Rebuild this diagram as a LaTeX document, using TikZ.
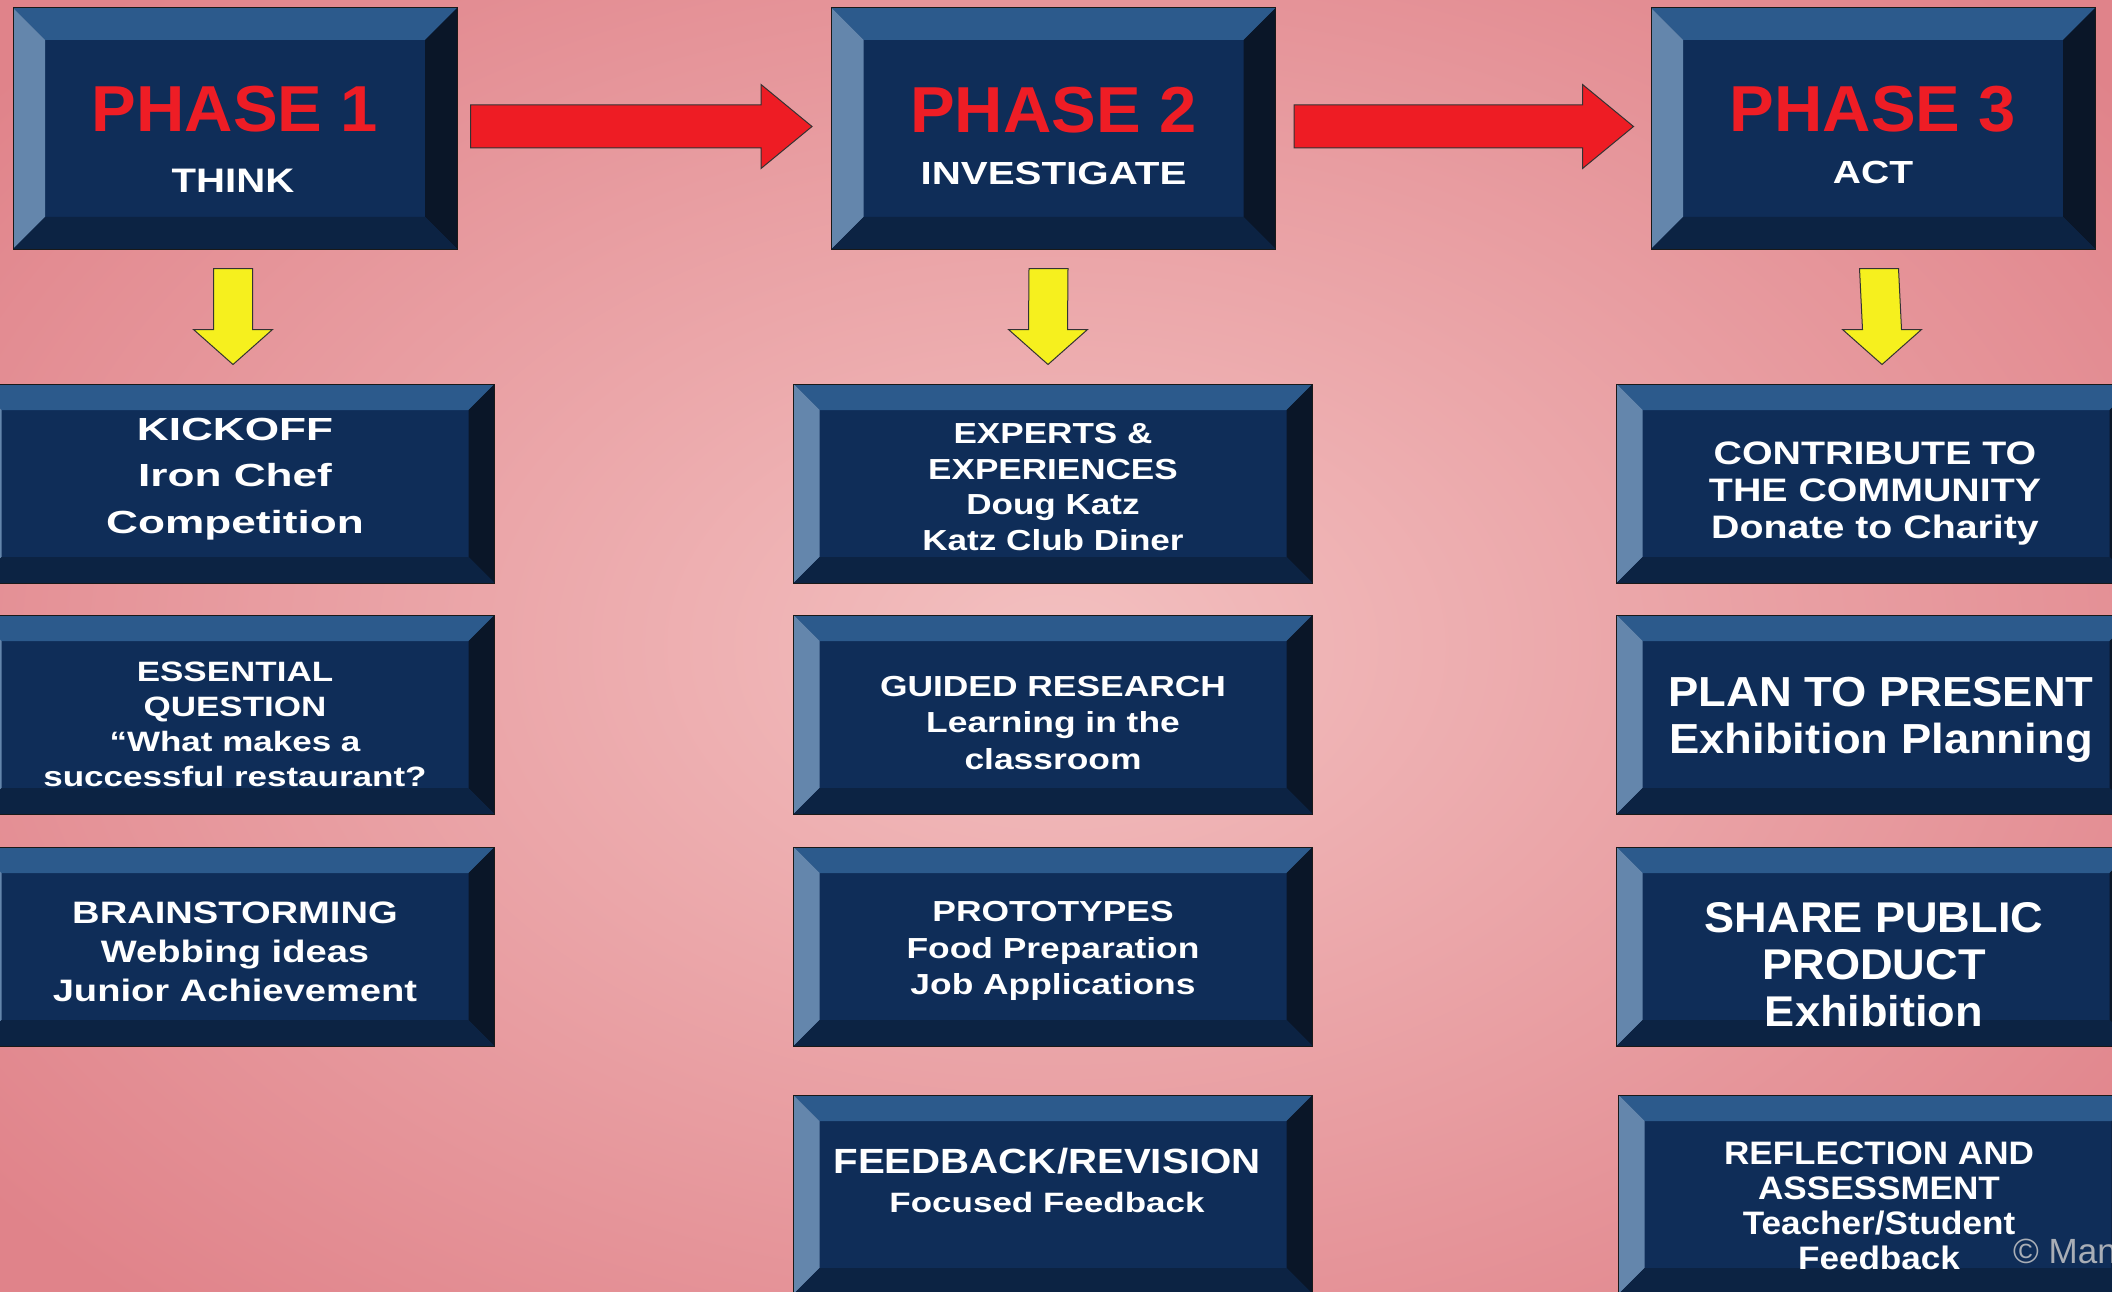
\documentclass[tikz,border=0pt]{standalone}
\usepackage{fontspec}
\setmainfont{Liberation Sans}
\usetikzlibrary{calc}

\definecolor{bgin}{HTML}{F3C0C0}
\definecolor{bgout}{HTML}{E0838A}
\definecolor{face}{HTML}{0F2D58}
\definecolor{bevtop}{HTML}{2C5A8C}
\definecolor{bevleft}{HTML}{6486AC}
\definecolor{bevright}{HTML}{0A1628}
\definecolor{bevbot}{HTML}{0C2343}
\definecolor{phasered}{HTML}{EE1D25}
\definecolor{arrowred}{HTML}{EE1C24}
\definecolor{arrowyellow}{HTML}{F6F01E}
\definecolor{wmgray}{HTML}{A9AEB6}

% bold sans, widened: {stretch}{size}{baselineskip}
\newcommand\boxfnt[3]{\fontspec{Liberation Sans Bold}[FakeStretch=#1]\fontsize{#2}{#3}\selectfont}

\newcommand\bevw{26pt}
\tikzset{
  bevel/.store in=\bevw,
  bevbox/.style={rectangle, draw=black!90, line width=1pt, fill=face,
    inner sep=0pt,
    path picture={
      \coordinate (bnw) at (path picture bounding box.north west);
      \coordinate (bne) at (path picture bounding box.north east);
      \coordinate (bsw) at (path picture bounding box.south west);
      \coordinate (bse) at (path picture bounding box.south east);
      \fill[bevtop] (bnw) -- (bne) -- ([xshift=-\bevw,yshift=-\bevw]bne)
        -- ([xshift=\bevw,yshift=-\bevw]bnw) -- cycle;
      \fill[bevleft] (bnw) -- ([xshift=\bevw,yshift=-\bevw]bnw)
        -- ([xshift=\bevw,yshift=\bevw]bsw) -- (bsw) -- cycle;
      \fill[bevright] (bne) -- (bse) -- ([xshift=-\bevw,yshift=\bevw]bse)
        -- ([xshift=-\bevw,yshift=-\bevw]bne) -- cycle;
      \fill[bevbot] (bsw) -- ([xshift=\bevw,yshift=\bevw]bsw)
        -- ([xshift=-\bevw,yshift=\bevw]bse) -- (bse) -- cycle;
    }},
  phasebox/.style={bevbox, minimum width=444pt, minimum height=241pt, bevel=32pt},
  itembox/.style={bevbox, minimum width=519pt, minimum height=199pt, bevel=26pt},
  phasetitle/.style={text=phasered, inner sep=0pt, anchor=base,
    font=\boxfnt{1.03}{65}{65}},
  phasesub/.style={text=white, inner sep=0pt, anchor=base},
  boxtext/.style={text=white, align=center, inner sep=0pt},
  redarrow/.style={fill=arrowred, draw=black!80, line width=1pt, line join=miter},
  yellowarrow/.style={fill=arrowyellow, draw=black!80, line width=1pt, line join=miter},
}

% horizontal block arrow from #1 (tail centre) to #2 (tip)
\newcommand\hblock[2]{%
  \filldraw[redarrow] ($(#1)+(0,-21.5)$) -- ($(#2)+(-51,-21.5)$)
    -- ($(#2)+(-51,-42)$) -- (#2) -- ($(#2)+(-51,42)$)
    -- ($(#2)+(-51,21.5)$) -- ($(#1)+(0,21.5)$) -- cycle;}
% downward block arrow from #1 (tail centre) to #2 (tip)
\newcommand\vblock[2]{%
  \filldraw[yellowarrow] ($(#1)+(-19.5,0)$) -- ($(#2)+(-19.5,-35)$)
    -- ($(#2)+(-39.5,-35)$) -- (#2) -- ($(#2)+(39.5,-35)$)
    -- ($(#2)+(19.5,-35)$) -- ($(#1)+(19.5,0)$) -- cycle;}

\begin{document}
\begin{tikzpicture}[x=1pt, y=-1pt]
  \useasboundingbox (0,0) rectangle (2112,1292);
  \clip (0,0) rectangle (2112,1292);
  \shade[inner color=bgin, outer color=bgout] (-300,-250) rectangle (2412,1542);

  % phase headers
  \node[phasebox] (ph1) at (235,128.5) {};
  \node[phasebox] (ph2) at (1053.5,128.5) {};
  \node[phasebox] (ph3) at (1873,128.5) {};
  \node[phasetitle] (ph1t) at (235,132) {PHASE 1};
  \node[phasetitle] (ph2t) at (1053.5,133) {PHASE 2};
  \node[phasetitle] (ph3t) at (1873,132) {PHASE 3};
  \node[phasesub, font=\boxfnt{1.18}{34}{34}] (ph1s) at (233,193) {THINK};
  \node[phasesub, font=\boxfnt{1.26}{32}{32}] (ph2s) at (1053.5,185) {INVESTIGATE};
  \node[phasesub, font=\boxfnt{1.22}{32}{32}] (ph3s) at (1873,184) {ACT};

  % step boxes
  \node[itembox] (c1a) at (235,483.5) {};
  \node[itembox] (c1b) at (235,714.5) {};
  \node[itembox] (c1c) at (235,946.5) {};
  \node[itembox] (c2a) at (1053,483.5) {};
  \node[itembox] (c2b) at (1053,714.5) {};
  \node[itembox] (c2c) at (1053,946.5) {};
  \node[itembox] (c2d) at (1053,1194.5) {};
  \node[itembox] (c3a) at (1876,483.5) {};
  \node[itembox] (c3b) at (1876,714.5) {};
  \node[itembox] (c3c) at (1876,946.5) {};
  \node[itembox] (c3d) at (1878,1194.5) {};

  % step texts
  \node[boxtext, font=\boxfnt{1.38}{32}{46.7}] (c1a-t) at (235,479)
    {KICKOFF\\Iron Chef\\Competition};
  \node[boxtext, font=\boxfnt{1.25}{28}{35}] (c1b-t) at (235,724.5)
    {ESSENTIAL\\QUESTION\\“What makes a\\successful restaurant?};
  \node[boxtext, font=\boxfnt{1.23}{31}{39}] (c1c-t) at (235,952)
    {BRAINSTORMING\\Webbing ideas\\Junior Achievement};

  \node[boxtext, font=\boxfnt{1.21}{29}{35.7}] (c2a-t) at (1053,487)
    {EXPERTS \&\\EXPERIENCES\\Doug Katz\\Katz Club Diner};
  \node[boxtext, font=\boxfnt{1.22}{29}{36.5}] (c2b-t) at (1053,723)
    {GUIDED RESEARCH\\Learning in the\\classroom};
  \node[boxtext, font=\boxfnt{1.22}{29}{36.5}] (c2c-t) at (1053,951)
    {PROTOTYPES\\Food Preparation\\Job Applications};
  \node[boxtext, font=\boxfnt{1.25}{28}{39}] (c2d-t) at (1047,1180)
    {{\boxfnt{1.15}{35}{39}FEEDBACK/REVISION}\\Focused Feedback};

  \node[boxtext, font=\boxfnt{1.21}{32.5}{37}] (c3a-t) at (1875,493.7)
    {CONTRIBUTE TO\\THE COMMUNITY\\Donate to Charity};
  \node[boxtext, font=\boxfnt{1.08}{42}{47}] (c3b-t) at (1881,720)
    {PLAN TO PRESENT\\Exhibition Planning};
  \node[boxtext, font=\boxfnt{1.05}{43}{47}] (c3c-t) at (1874,964.5)
    {SHARE PUBLIC\\PRODUCT\\Exhibition};
  \node[boxtext, font=\boxfnt{1.08}{32.5}{35}] (c3d-t) at (1879,1206)
    {REFLECTION AND\\ASSESSMENT\\Teacher/Student\\Feedback};

  % red arrows between phases
  \coordinate (r1a) at ($(ph1.east)+(13,-2)$);
  \coordinate (r1b) at ($(ph2.west)+(-19,-2)$);
  \coordinate (r2a) at ($(ph2.east)+(18,-2)$);
  \coordinate (r2b) at ($(ph3.west)+(-17,-2)$);
  \hblock{r1a}{r1b}
  \hblock{r2a}{r2b}

  % yellow arrows down to the first step
  \coordinate (y1a) at ($(ph1.south)+(-2,19)$);
  \coordinate (y1b) at ($(c1a.north)+(-2,-19)$);
  \coordinate (y2a) at ($(ph2.south)+(-5,19)$);
  \coordinate (y2b) at ($(c2a.north)+(-5,-19)$);
  \coordinate (y3a) at ($(ph3.south)+(6,19)$);
  \coordinate (y3b) at ($(c3a.north)+(6,-19)$);
  \vblock{y1a}{y1b}
  \vblock{y2a}{y2b}
  \vblock{y3a}{y3b}

  % watermark
  \node[text=wmgray, anchor=west, inner sep=0pt,
    font=\fontsize{35}{35}\selectfont] (wm) at (2013,1251) {© Man};
\end{tikzpicture}
\end{document}
